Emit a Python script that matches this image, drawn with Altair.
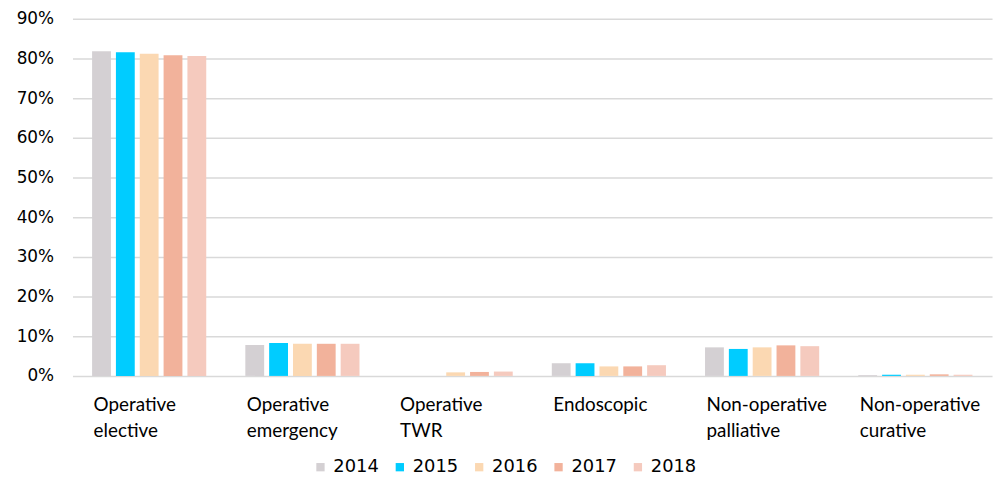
import altair as alt
import pandas as pd

categories = ["Operative elective", "Operative emergency", "Operative TWR",
              "Endoscopic", "Non-operative palliative", "Non-operative curative"]
years = ["2014", "2015", "2016", "2017", "2018"]
colors = ["#D4D0D3", "#00CCFF", "#FBD8B2", "#F2B29B", "#F5CABE"]

v2014 = [0.818, 0.078, 0.000, 0.032, 0.072, 0.002]
v2015 = [0.816, 0.083, 0.000, 0.032, 0.068, 0.003]
v2016 = [0.812, 0.081, 0.009, 0.024, 0.072, 0.003]
v2017 = [0.808, 0.081, 0.010, 0.024, 0.077, 0.004]
v2018 = [0.806, 0.081, 0.011, 0.027, 0.075, 0.003]

series = [v2014, v2015, v2016, v2017, v2018]
rows = []
for y, vals in zip(years, series):
    for c, v in zip(categories, vals):
        rows.append({"category": c, "year": y, "value": v})
df = pd.DataFrame(rows)

chart = alt.Chart(df).mark_bar().encode(
    x=alt.X("category:N", sort=categories,
            scale=alt.Scale(paddingInner=0.255, paddingOuter=0.128),
            axis=alt.Axis(title=None, labelAngle=0, labelAlign="left", labelOffset=-56,
                          labelBaseline="top", labelPadding=20, labelLineHeight=26,
                          labelExpr="split(datum.label, ' ')",
                          labelFont="Lato", labelFontSize=19, labelColor="#000000",
                          domain=False, ticks=False, labelLimit=300)),
    xOffset=alt.XOffset("year:N", sort=years,
                        scale=alt.Scale(paddingInner=0.21, paddingOuter=0)),
    y=alt.Y("value:Q", scale=alt.Scale(domain=[0, 0.9], nice=False),
            axis=alt.Axis(title=None, format=".0%", values=[i / 10 for i in range(10)],
                          labelFont="DejaVu Sans", labelFontSize=17, labelColor="#000000",
                          labelPadding=19, domain=False, ticks=False,
                          gridColor="#D9D9D9", gridWidth=1.5)),
    color=alt.Color("year:N", sort=years,
                    scale=alt.Scale(domain=years, range=colors),
                    legend=alt.Legend(title=None, orient="none", direction="horizontal",
                                      legendX=241, legendY=443,
                                      symbolType="square", symbolSize=70,
                                      symbolStrokeWidth=0, labelFont="DejaVu Sans",
                                      labelFontSize=18, labelColor="#000000",
                                      labelOffset=4, columnPadding=12)),
).properties(
    width=927, height=360,
    autosize=alt.AutoSizeParams(type="none"),
    padding={"left": 65, "top": 9, "right": 5, "bottom": 101},
).configure_view(stroke=None)

chart.save("out.html", embed_options={"renderer": "svg", "actions": False})
